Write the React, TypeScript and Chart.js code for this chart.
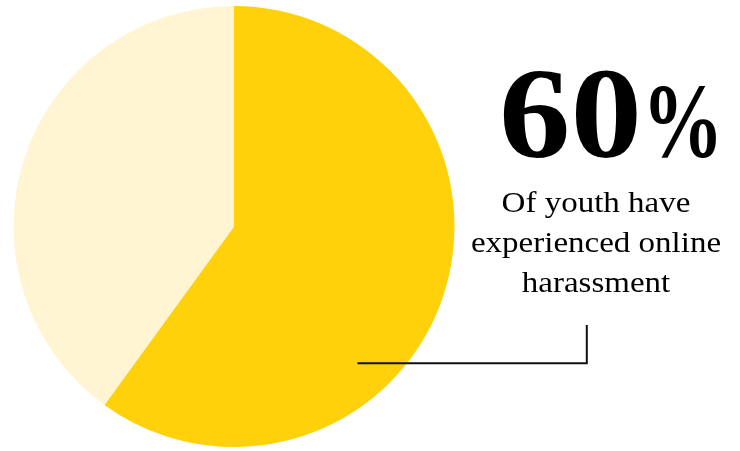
import React, { useEffect, useRef } from "react";
import { Chart, registerables } from "chart.js";

Chart.register(...registerables);

const categories = ["Experienced online harassment", "Not experienced"];
const shares = [60, 40];
const sliceColors = ["#FFD10A", "#FFF5D3"];
const headlineValue = "60";
const headlineUnit = "%";
const captionLines = ["Of youth have", "experienced online", "harassment"];

const calloutPlugin = {
  id: "callout",
  afterDraw(chart: any) {
    const arc = chart.getDatasetMeta(0).data[0];
    if (!arc) return;
    const { x, y, outerRadius } = arc.getProps(["x", "y", "outerRadius"], true);
    const ctx = chart.ctx;
    const ly = y + outerRadius * 0.62;
    const x0 = x + outerRadius * 0.56;
    const x1 = x + outerRadius * 1.6;
    const yTop = y + outerRadius * 0.447;
    ctx.save();
    ctx.strokeStyle = "#111";
    ctx.lineWidth = 2;
    ctx.lineCap = "butt";
    ctx.beginPath();
    ctx.moveTo(x0, ly);
    ctx.lineTo(x1, ly);
    ctx.lineTo(x1, yTop);
    ctx.stroke();
    ctx.restore();
  },
};

export default function App() {
  const canvasRef = useRef<HTMLCanvasElement | null>(null);

  useEffect(() => {
    document.body.style.margin = "0";
    const canvas = canvasRef.current;
    if (!canvas) return;
    const chart = new Chart(canvas, {
      type: "pie",
      data: {
        labels: categories,
        datasets: [
          {
            data: shares,
            backgroundColor: sliceColors,
            borderWidth: 0,
          },
        ],
      },
      options: {
        responsive: false,
        animation: false,
        layout: { padding: { left: 6, right: 278, top: 6, bottom: 4 } },
        plugins: {
          legend: { display: false },
          tooltip: { enabled: false },
        },
      },
      plugins: [calloutPlugin],
    });
    return () => chart.destroy();
  }, []);

  return (
    <div style={{ position: "relative", width: 740, height: 451, overflow: "hidden", background: "#fff" }}>
      <canvas ref={canvasRef} width={740} height={451} style={{ position: "absolute", left: 0, top: 0, width: 740, height: 451 }} />
      <div
        style={{
          position: "absolute",
          left: 499,
          top: 48,
          fontFamily: "'Liberation Serif', serif",
          fontWeight: 700,
          fontSize: 130,
          lineHeight: "130px",
          color: "#000",
          whiteSpace: "nowrap",
          transform: "scaleX(1.1)",
          transformOrigin: "left top",
        }}
      >
        {headlineValue}
        <span style={{ fontSize: 106, display: "inline-block", transform: "scaleX(0.7)", transformOrigin: "left bottom" }}>
          {headlineUnit}
        </span>
      </div>
      <div
        style={{
          position: "absolute",
          left: 446,
          width: 300,
          top: 182,
          textAlign: "center",
          fontFamily: "'Liberation Serif', serif",
          fontSize: 30,
          lineHeight: "40px",
          color: "#000",
          whiteSpace: "nowrap",
          transform: "scaleX(1.1)",
          transformOrigin: "center top",
        }}
      >
        {captionLines.map((l) => (
          <div key={l}>{l}</div>
        ))}
      </div>
    </div>
  );
}
